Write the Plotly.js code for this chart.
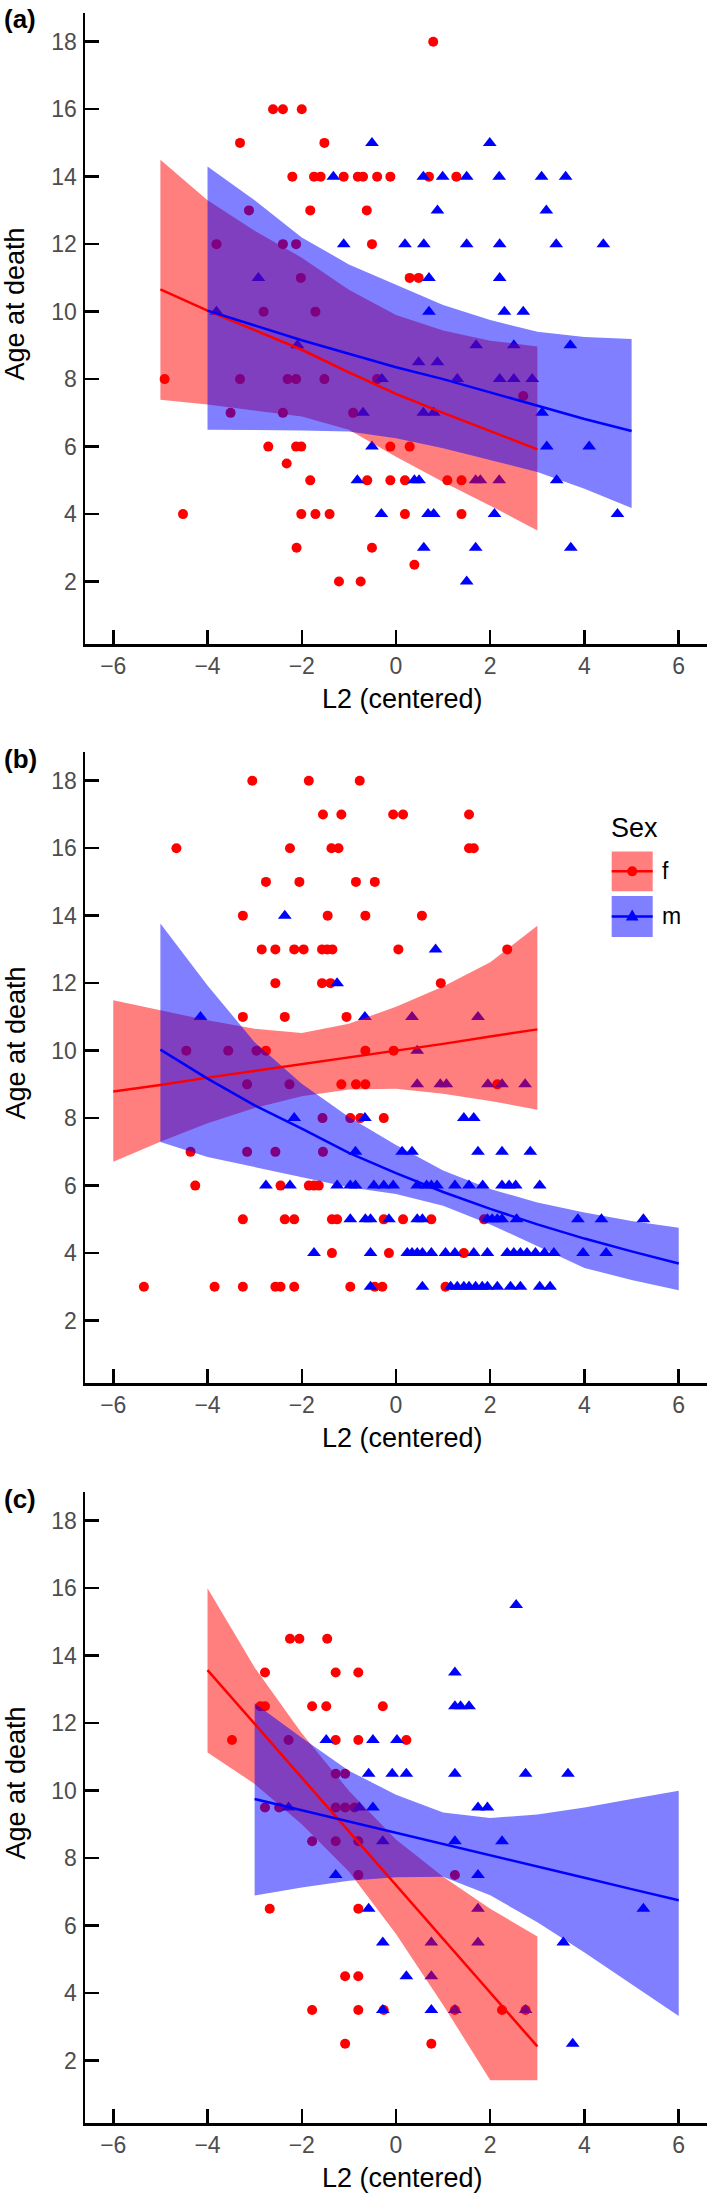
<!DOCTYPE html>
<html><head><meta charset="utf-8">
<script src="https://cdn.plot.ly/plotly-3.0.1.min.js"></script>
<style>html,body{margin:0;padding:0;background:#fff}#chart{width:709px;height:2195px}</style>
</head><body><div id="chart"></div>
<script>
// ---------- tick labels ----------
var xTicks = [-6, -4, -2, 0, 2, 4, 6];
var yTicks = [2, 4, 6, 8, 10, 12, 14, 16, 18];
var panelLabels = ['(a)', '(b)', '(c)'];
var xTitle = 'L2 (centered)';
var yTitle = 'Age at death';
var legendTitle = 'Sex';
var sexLevels = ['f', 'm'];

// ---------- panel (a) ----------
var aRedX = [0.79, -2.61,-2.40,-2.00, -3.31,-1.52, -2.20,-1.74,-1.60,-1.11,-0.81,-0.70,-0.40,-0.12,0.70,1.28, -3.12,-1.82,-0.62, -3.81,-2.40,-2.12,-0.51, -2.02,0.29,0.48, -2.81,-1.71, -4.91,-3.31,-2.30,-2.12,-1.52,-0.40, 2.70, -3.51,-2.40,-0.91, -2.71,-2.12,-2.01,-0.12,0.29, -2.32, -1.82,-0.61,-0.12,0.19,1.09,1.39, -4.52,-2.01,-1.71,-1.41,0.19,1.39, -2.11,-0.51, 0.39, -1.21,-0.75];
var aRedY = [18, 16,16,16, 15,15, 14,14,14,14,14,14,14,14,14,14, 13,13,13, 12,12,12,12, 11,11,11, 10,10, 8,8,8,8,8,8, 7.5, 7,7,7, 6,6,6,6,6, 5.5, 5,5,5,5,5,5, 4,4,4,4,4,4, 3,3, 2.5, 2,2];
var aBlueX = [-0.51,1.99, -1.33,0.58,0.99,1.50,2.19,3.09,3.60, 0.88,3.19, -1.11,0.19,0.59,1.50,2.20,3.40,4.40, -2.92,0.70,2.20, -3.81,0.70,2.30,2.70, -2.09,1.70,2.50,3.70, 0.48,0.88, -0.30,1.30,2.20,2.50,2.89, -0.70,0.58,0.80,3.10, -0.51,3.20,4.10, -0.82,0.39,0.49,1.69,1.79,2.19,3.41, -0.31,0.68,0.80,2.09,4.70, 0.59,1.69,3.71, 1.50];
var aBlueY = [15,15, 14,14,14,14,14,14,14, 13,13, 12,12,12,12,12,12,12, 11,11,11, 10,10,10,10, 9,9,9,9, 8.5,8.5, 8,8,8,8,8, 7,7,7,7, 6,6,6, 5,5,5,5,5,5,5, 4,4,4,4,4, 3,3,3, 2];
var aRedFitX = [-5,-4,-3,-2,-1,0,1,2,3];
var aRedFit  = [10.66,10.03,9.45,8.87,8.2,7.56,7.0,6.45,5.92];
var aRedUp   = [14.5,13.3,12.4,11.6,10.65,9.9,9.44,9.14,8.97];
var aRedLo   = [7.39,7.25,7.07,6.89,6.5,5.7,4.95,4.25,3.51];
var aBlueFitX = [-4,-3,-2,-1,0,1,2,3,4,5];
var aBlueFit  = [10.03,9.6,9.15,8.75,8.35,8.0,7.61,7.22,6.82,6.46];
var aBlueUp   = [14.3,13.3,12.2,11.4,10.8,10.2,9.75,9.4,9.25,9.19];
var aBlueLo   = [6.5,6.5,6.48,6.45,6.25,5.95,5.6,5.25,4.75,4.18];

// ---------- panel (b) ----------
var bRedX = [-3.05,-1.85,-0.77, -1.55,-1.16,-0.06,0.15,1.55, -4.66,-2.25,-1.37,-1.22,1.55,1.65, -2.76,-2.05,-0.85,-0.45, -3.25,-1.45,-0.65,0.55, -2.85,-2.56,-2.16,-1.96,-1.57,-1.46,-1.35,0.05,2.36, -2.56,-1.57,-1.39,0.95, -3.25,-2.36,-1.05, -4.45,-3.56,-2.96,-2.76,-0.65,-0.05, -3.16,-2.26,-1.16,-0.85,-0.65,2.15, -1.56,-0.97,-0.76,-0.26, -4.36,-3.16,-2.56,-1.55, -4.26,-2.45,-1.85,-1.74,-1.64, -3.25,-2.36,-2.16,-1.36,-1.25,-0.26,0.15,0.75,1.87, -1.36,-0.15,1.44, -5.35,-3.85,-3.25,-2.56,-2.45,-2.16,-0.97,-0.45,-0.29,1.05];
var bRedY = [18,18,18, 17,17,17,17,17, 16,16,16,16,16,16, 15,15,15,15, 14,14,14,14, 13,13,13,13,13,13,13,13,13, 12,12,12,12, 11,11,11, 10,10,10,10,10,10, 9,9,9,9,9,9, 8,8,8,8, 7,7,7,7, 6,6,6,6,6, 5,5,5,5,5,5,5,5,5, 4,4,4, 3,3,3,3,3,3,3,3,3,3];
var bBlueX = [-2.36, 0.84, -1.25, -4.15,-0.66,0.34,1.74, 0.45, 0.45,0.94,1.07,1.95,2.25,2.74, -2.16,-0.66,1.44,1.65, -0.86,0.13,0.34,1.74,2.25,2.85, -2.76,-2.25,-1.25,-0.97,-0.86,-0.47,-0.26,-0.06,0.45,0.65,0.75,0.87,1.25,1.55,1.84,2.25,2.40,2.54,3.05, -0.97,-0.65,-0.54,-0.15,0.45,0.56,1.94,2.04,2.15,2.25,2.56,3.86,4.36,5.25, -1.74,-0.54,0.24,0.34,0.45,0.56,0.75,1.05,1.25,1.65,1.94,2.36,2.50,2.64,2.78,2.96,3.15,3.35,3.97,4.46, -0.54,0.56,1.16,1.30,1.44,1.55,1.69,1.83,1.94,2.15,2.43,2.64,3.05,3.27];
var bBlueY = [14, 13, 12, 11,11,11,11, 10, 9,9,9,9,9,9, 8,8,8,8, 7,7,7,7,7,7, 6,6,6,6,6,6,6,6,6,6,6,6,6,6,6,6,6,6,6, 5,5,5,5,5,5,5,5,5,5,5,5,5,5, 4,4,4,4,4,4,4,4,4,4,4,4,4,4,4,4,4,4,4,4, 3,3,3,3,3,3,3,3,3,3,3,3,3,3];
var bRedFitX = [-6,-5,-4,-3,-2,-1,0,1,2,3];
var bRedFit  = [8.79,8.98,9.2,9.4,9.6,9.8,9.98,10.2,10.42,10.63];
var bRedUp   = [11.49,11.2,10.9,10.65,10.52,10.8,11.3,11.9,12.62,13.7];
var bRedLo   = [6.71,7.3,7.85,8.3,8.65,8.85,8.87,8.72,8.51,8.25];
var bBlueFitX = [-5,-4,-3,-2,-1,0,1,2,3,4,5,6];
var bBlueFit  = [10.03,9.17,8.38,7.69,6.97,6.37,5.81,5.31,4.85,4.43,4.05,3.69];
var bBlueUp   = [13.77,11.93,10.25,9.02,8.03,7.2,6.45,5.9,5.5,5.2,4.95,4.75];
var bBlueLo   = [7.29,6.85,6.55,6.25,5.95,5.75,5.4,4.85,4.2,3.56,3.2,2.9];

// ---------- panel (c) ----------
var cRedX = [-2.25,-2.05,-1.46, -2.78,-1.28,-0.80, -2.88,-2.78,-1.78,-1.48,-0.28, -3.48,-2.28,-1.28,-0.80,0.22, -1.28,-1.08, -2.78,-2.48,-1.28,-1.08,-0.88, -1.78,-1.28,-0.80, -0.80,1.25, -2.68,-0.80, -1.08,-0.80, -1.78,-0.80,-0.26,1.25,2.25,2.75, -1.08,0.75];
var cRedY = [14.5,14.5,14.5, 13.5,13.5,13.5, 12.5,12.5,12.5,12.5,12.5, 11.5,11.5,11.5,11.5,11.5, 10.5,10.5, 9.5,9.5,9.5,9.5,9.5, 8.5,8.5,8.5, 7.5,7.5, 6.5,6.5, 4.5,4.5, 3.5,3.5,3.5,3.5,3.5,3.5, 2.5,2.5];
var cBlueX = [2.55, 1.25, 1.25,1.37,1.55, -1.48,-0.49,0.02, -0.58,-0.08,0.22,1.25,2.75,3.65, -2.28,-0.78,-0.49,1.74,1.94, -0.28,1.25,2.25, -1.28,1.74, -0.58,1.74,5.25, -0.28,0.75,1.74,3.55, 0.22,0.75, -0.28,0.75,1.25,2.75, 3.75];
var cBlueY = [15.5, 13.5, 12.5,12.5,12.5, 11.5,11.5,11.5, 10.5,10.5,10.5,10.5,10.5,10.5, 9.5,9.5,9.5,9.5,9.5, 8.5,8.5,8.5, 7.5,7.5, 6.5,6.5,6.5, 5.5,5.5,5.5,5.5, 4.5,4.5, 3.5,3.5,3.5,3.5, 2.5];
var cRedFitX = [-4,-3,-2,-1,0,1,2,3];
var cRedFit  = [13.57,11.98,10.38,8.79,7.2,5.61,4.01,2.42];
var cRedUp   = [16.0,13.65,11.7,10.0,8.55,7.45,6.5,5.68];
var cRedLo   = [11.13,10.2,9.0,7.6,5.75,3.65,1.42,1.42];
var cBlueFitX = [-3,-2,-1,0,1,2,3,4,5,6];
var cBlueFit  = [9.75,9.42,9.08,8.75,8.42,8.08,7.75,7.42,7.08,6.75];
var cBlueUp   = [12.59,11.57,10.59,9.88,9.35,9.19,9.29,9.5,9.75,10.0];
var cBlueLo   = [6.89,7.13,7.33,7.43,7.45,6.9,6.1,5.2,4.25,3.32];

// ---------- styling ----------
var RED = '#FF0000', BLUE = '#0000FF';
var RED_FILL = 'rgba(255,0,0,0.5)', BLUE_FILL = 'rgba(0,0,255,0.5)';
var FONT = 'Liberation Sans, Arial, Helvetica, sans-serif';
var W = 709, H = 2195, ML = 85, MR = 2;
function PX(px) { return (px - ML) / (W - ML - MR); }
function PY(py) { return 1 - py / H; }

function pts(x, y, color, symbol, size, n) {
  return {type: 'scatter', mode: 'markers', x: x, y: y, xaxis: 'x' + n, yaxis: 'y' + n,
    marker: {color: color, symbol: symbol, size: size, line: {width: 0}},
    hoverinfo: 'skip', showlegend: false, cliponaxis: true};
}
function ribbon(x, up, lo, fill, n) {
  var xx = x.concat(x.slice().reverse());
  var yy = up.concat(lo.slice().reverse());
  return {type: 'scatter', mode: 'lines', x: xx, y: yy, xaxis: 'x' + n, yaxis: 'y' + n,
    fill: 'toself', fillcolor: fill, line: {width: 0, color: 'rgba(0,0,0,0)'},
    hoverinfo: 'skip', showlegend: false};
}
function fit(x, y, color, n) {
  return {type: 'scatter', mode: 'lines', x: x, y: y, xaxis: 'x' + n, yaxis: 'y' + n,
    line: {color: color, width: 2.5}, hoverinfo: 'skip', showlegend: false};
}

var panels = [
  {rx: aRedX, ry: aRedY, bx: aBlueX, by: aBlueY, rfx: aRedFitX, rf: aRedFit, ru: aRedUp, rl: aRedLo, bfx: aBlueFitX, bf: aBlueFit, bu: aBlueUp, bl: aBlueLo},
  {rx: bRedX, ry: bRedY, bx: bBlueX, by: bBlueY, rfx: bRedFitX, rf: bRedFit, ru: bRedUp, rl: bRedLo, bfx: bBlueFitX, bf: bBlueFit, bu: bBlueUp, bl: bBlueLo},
  {rx: cRedX, ry: cRedY, bx: cBlueX, by: cBlueY, rfx: cRedFitX, rf: cRedFit, ru: cRedUp, rl: cRedLo, bfx: cBlueFitX, bf: cBlueFit, bu: cBlueUp, bl: cBlueLo}
];
// panel plot-area pixel extents (top, bottom)
var tops = [13, 752, 1492], bottoms = [644, 1383, 2123];

var traces = [];
panels.forEach(function (p, i) {
  var n = i + 1;
  traces.push(pts(p.rx, p.ry, RED, 'circle', 10, n));
  traces.push(pts(p.bx, p.by, BLUE, 'triangle-up', 12, n));
  traces.push(ribbon(p.rfx, p.ru, p.rl, RED_FILL, n));
  traces.push(ribbon(p.bfx, p.bu, p.bl, BLUE_FILL, n));
  traces.push(fit(p.rfx, p.rf, RED, n));
  traces.push(fit(p.bfx, p.bf, BLUE, n));
});

var layout = {
  width: W, height: H, autosize: false,
  margin: {l: ML, r: MR, t: 0, b: 0, pad: 0},
  paper_bgcolor: '#FFFFFF', plot_bgcolor: '#FFFFFF',
  showlegend: false,
  font: {family: FONT, color: '#000'},
  annotations: [], shapes: []
};
function axisStyle() {
  return {showline: true, linecolor: '#000', linewidth: 2.5, mirror: false,
    ticks: 'inside', ticklen: 14, tickwidth: 2.5, tickcolor: '#000',
    showgrid: false, zeroline: false, fixedrange: true,
    tickfont: {family: FONT, size: 23, color: '#4D4D4D'}};
}
for (var i = 0; i < 3; i++) {
  var n = i + 1;
  var xa = axisStyle(), ya = axisStyle();
  xa.domain = [0, 1]; xa.range = [-6.6, 6.6]; xa.tickvals = xTicks; xa.anchor = 'y' + n;
  xa.ticklabelstandoff = 0;
  ya.domain = [PY(bottoms[i]), PY(tops[i])]; ya.range = [0.15, 18.85]; ya.tickvals = yTicks; ya.anchor = 'x' + n;
  ya.ticklabelstandoff = 1;
  layout['xaxis' + (n === 1 ? '' : n)] = xa;
  layout['yaxis' + (n === 1 ? '' : n)] = ya;
  layout.annotations.push({text: '<b>' + panelLabels[i] + '</b>', xref: 'paper', yref: 'paper',
    x: PX(2), y: PY(tops[i] + 6.5), xanchor: 'left', yanchor: 'middle', showarrow: false,
    font: {family: FONT, size: 26, color: '#000'}});
  layout.annotations.push({text: yTitle, xref: 'paper', yref: 'paper', textangle: -90,
    x: PX(15), y: PY((tops[i] + bottoms[i]) / 2 - 24), xanchor: 'center', yanchor: 'middle', showarrow: false,
    font: {family: FONT, size: 27, color: '#000'}});
  layout.annotations.push({text: xTitle, xref: 'paper', yref: 'paper',
    x: PX(402), y: PY(bottoms[i] + 55), xanchor: 'center', yanchor: 'middle', showarrow: false,
    font: {family: FONT, size: 27, color: '#000'}});
}
layout.xaxis.anchor = 'y'; layout.yaxis.anchor = 'x';
traces.forEach(function (t) { if (t.xaxis === 'x1') t.xaxis = 'x'; if (t.yaxis === 'y1') t.yaxis = 'y'; });

// ---------- legend (panel b) drawn manually ----------
layout.annotations.push({text: legendTitle, xref: 'paper', yref: 'paper', x: PX(609), y: PY(828),
  xanchor: 'left', yanchor: 'middle', showarrow: false, font: {family: FONT, size: 27, color: '#000'}});
var keyX0 = 611.7, keyX1 = 652.7, keyCx = 632.2;
var keys = [{y0: 851.4, y1: 891.3, fill: RED_FILL, col: RED, label: sexLevels[0]},
            {y0: 896, y1: 936.9, fill: BLUE_FILL, col: BLUE, label: sexLevels[1]}];
keys.forEach(function (k, j) {
  var cy = (k.y0 + k.y1) / 2;
  layout.shapes.push({type: 'rect', xref: 'paper', yref: 'paper', x0: PX(keyX0), x1: PX(keyX1),
    y0: PY(k.y1), y1: PY(k.y0), fillcolor: k.fill, line: {width: 0}});
  layout.shapes.push({type: 'line', xref: 'paper', yref: 'paper', x0: PX(keyX0), x1: PX(keyX1),
    y0: PY(cy), y1: PY(cy), line: {color: k.col, width: 2.5}});
  if (j === 0) {
    layout.shapes.push({type: 'circle', xref: 'paper', yref: 'paper', x0: PX(keyCx - 5), x1: PX(keyCx + 5),
      y0: PY(cy + 5), y1: PY(cy - 5), fillcolor: k.col, line: {width: 0}});
  } else {
    var p = 'M' + PX(keyCx) + ',' + PY(cy - 7) + ' L' + PX(keyCx + 6.4) + ',' + PY(cy + 4) +
            ' L' + PX(keyCx - 6.4) + ',' + PY(cy + 4) + ' Z';
    layout.shapes.push({type: 'path', xref: 'paper', yref: 'paper', path: p, fillcolor: k.col, line: {width: 0}});
  }
  layout.annotations.push({text: k.label, xref: 'paper', yref: 'paper', x: PX(660), y: PY(cy),
    xanchor: 'left', yanchor: 'middle', showarrow: false, font: {family: FONT, size: 23, color: '#000'}});
});

Plotly.newPlot('chart', traces, layout, {staticPlot: true, displayModeBar: false});
</script>
</body></html>
